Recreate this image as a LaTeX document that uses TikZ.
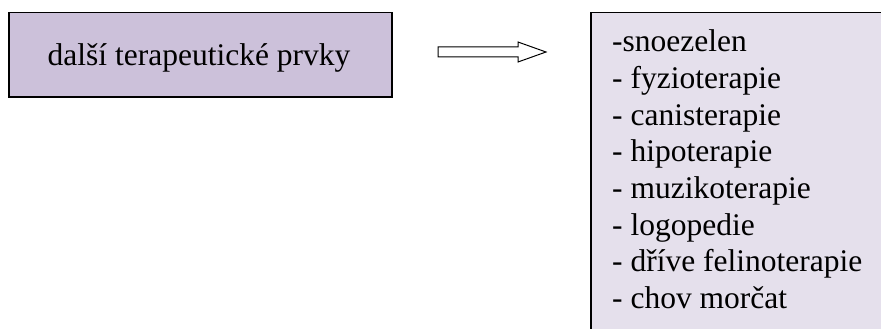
\documentclass[tikz,border=0pt]{standalone}
\usepackage{fontspec}
\setmainfont{Liberation Serif}
\usetikzlibrary{calc}
\definecolor{lavdark}{HTML}{CCC1DA}
\definecolor{lavlight}{HTML}{E5E0EC}
\tikzset{
  boxframe/.style={draw=black, line width=1.5pt},
  txt/.style={inner sep=0pt, font=\fontsize{31.5}{36.5}\selectfont},
  blockarrow/.style={draw=black, fill=white, line width=1pt, line join=miter}
}
\begin{document}
\begin{tikzpicture}[x=1pt,y=-1pt]
\clip (0,0) rectangle (881,329);
\fill[white] (0,0) rectangle (881,329);
% left box
\node[boxframe, fill=lavdark, minimum width=383pt, minimum height=84pt, inner sep=0pt, anchor=north west] (left) at (8,12) {};
\node[txt, anchor=base] (lefttext) at (199,66) {další terapeutické prvky};
% right box (runs past the page edge)
\node[boxframe, fill=lavlight, minimum width=320pt, minimum height=340pt, inner sep=0pt, anchor=north west] (right) at (590,12) {};
\foreach \t [count=\i from 0] in {-snoezelen, - fyzioterapie, - canisterapie, - hipoterapie, - muzikoterapie, - logopedie, - dříve felinoterapie, - chov morčat}
  \node[txt, anchor=base west] (item\i) at (612,{52+36.6*\i}) {\t};
% block arrow
\coordinate (as) at (438,52);
\coordinate (at) at (546,52);
\draw[blockarrow] ($(as)+(0,-5)$) -- ($(at)+(-28,-5)$) -- ($(at)+(-28,-10)$) -- (at) -- ($(at)+(-28,10)$) -- ($(at)+(-28,5)$) -- ($(as)+(0,5)$) -- cycle;
\end{tikzpicture}
\end{document}
